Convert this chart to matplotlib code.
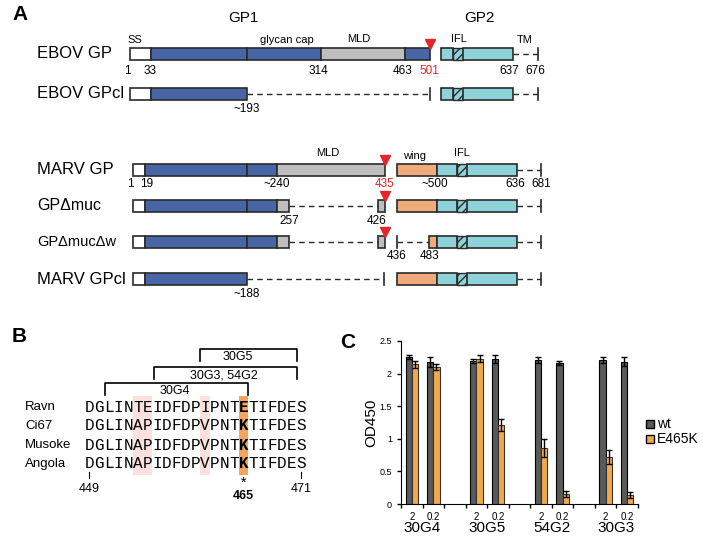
import matplotlib
matplotlib.use('Agg')
import matplotlib.pyplot as plt
from matplotlib.patches import Rectangle
import numpy as np

plt.rcParams['font.family'] = ['Liberation Sans', 'DejaVu Sans']
plt.rcParams['hatch.linewidth'] = 1.0

# ---- panel A: construct schematics (pixel layout) ----
BLUE = '#4866a6'
GRAY = '#bebebe'
CYAN = '#8dd3d9'
ORNG = '#f0ab7c'
WHITE = '#ffffff'
RED = '#e3262c'
EDGE = '#2a2a2a'

# (name, y centre, label size, segments, dashed runs, end ticks, cleavage marks)
constructs = [
    ('EBOV GP', 54, 12,
     [(130, 151, WHITE), (151, 247, BLUE), (247, 321, BLUE), (321, 405, GRAY), (405, 430, BLUE),
      (441, 453, CYAN), (453, 463, 'H'), (463, 513, CYAN)],
     [(513, 538)], [538], [430]),
    ('EBOV GPcl', 94, 12,
     [(130, 151, WHITE), (151, 247, BLUE),
      (441, 453, CYAN), (453, 463, 'H'), (463, 513, CYAN)],
     [(247, 430), (513, 538)], [430, 538], []),
    ('MARV GP', 170, 12,
     [(133, 145, WHITE), (145, 247, BLUE), (247, 277, BLUE), (277, 385, GRAY),
      (397, 437, ORNG), (437, 457, CYAN), (457, 467, 'H'), (467, 517, CYAN)],
     [(517, 541)], [541], [385]),
    ('GP\u0394muc', 206, 11.5,
     [(133, 145, WHITE), (145, 247, BLUE), (247, 277, BLUE), (277, 289, GRAY), (378, 385, GRAY),
      (397, 437, ORNG), (437, 457, CYAN), (457, 467, 'H'), (467, 517, CYAN)],
     [(289, 378), (517, 541)], [541], [385]),
    ('GP\u0394muc\u0394w', 242, 10.5,
     [(133, 145, WHITE), (145, 247, BLUE), (247, 277, BLUE), (277, 289, GRAY), (378, 385, GRAY),
      (429, 437, ORNG), (437, 457, CYAN), (457, 467, 'H'), (467, 517, CYAN)],
     [(289, 378), (397, 429), (517, 541)], [397, 541], [385]),
    ('MARV GPcl', 279, 12,
     [(133, 145, WHITE), (145, 247, BLUE),
      (397, 437, ORNG), (437, 457, CYAN), (457, 467, 'H'), (467, 517, CYAN)],
     [(247, 384), (517, 541)], [384, 541], []),
]

# residue numbers (x, text, y, colour)
residue_labels = [
    (127, '1', 71, 'k'), (150, '33', 71, 'k'), (318, '314', 71, 'k'), (403, '463', 71, 'k'),
    (429, '501', 71, RED), (509, '637', 71, 'k'), (535, '676', 71, 'k'),
    (247, '~193', 109, 'k'),
    (130, '1', 184, 'k'), (147, '19', 184, 'k'), (277, '~240', 184, 'k'), (385, '435', 184, RED),
    (435, '~500', 184, 'k'), (515, '636', 184, 'k'), (541, '681', 184, 'k'),
    (289, '257', 221, 'k'), (377, '426', 221, 'k'),
    (397, '436', 256, 'k'), (429, '483', 256, 'k'),
    (247, '~188', 294, 'k'),
]
domain_labels = [
    (135, 'SS', 40), (287, 'glycan cap', 40), (359, 'MLD', 39), (459, 'IFL', 39), (525, 'TM', 40),
    (328, 'MLD', 153), (415, 'wing', 156), (462, 'IFL', 153),
]

# ---- panel B: epitope alignment ----
strains = ['Ravn', 'Ci67', 'Musoke', 'Angola']
seqs = ['DGLINTEIDFDPIPNTETIFDES',
        'DGLINAPIDFDPVPNTKTIFDES',
        'DGLINAPIDFDPVPNTKTIFDES',
        'DGLINAPIDFDPVPNTKTIFDES']
pink_cols = [5, 6, 12]
key_col = 16
# (left, right, top, label, label x)
brackets = [(200, 297, 349, '30G5', 238), (154, 297, 367, '30G3, 54G2', 224),
            (105, 248, 383, '30G4', 175)]

# ---- panel C: ELISA ----
antibodies = ['30G4', '30G5', '54G2', '30G3']
conc = ['2', '0.2']
wt = [2.26, 2.18, 2.20, 2.22, 2.21, 2.16, 2.21, 2.18]
wt_err = [0.03, 0.08, 0.03, 0.06, 0.05, 0.03, 0.05, 0.07]
mut = [2.14, 2.10, 2.23, 1.21, 0.86, 0.15, 0.72, 0.14]
mut_err = [0.05, 0.05, 0.05, 0.09, 0.14, 0.05, 0.11, 0.05]

W, H = 703, 540
fig = plt.figure(figsize=(W / 100, H / 100), dpi=100)
ov = fig.add_axes([0, 0, 1, 1])
ov.set_xlim(0, W)
ov.set_ylim(H, 0)
ov.axis('off')

# panel letters
for x, y, s in [(12, 15, 'A'), (12, 337, 'B'), (340, 342, 'C')]:
    ov.text(x, y, s, fontsize=15, fontweight='bold', ha='left', va='center')

ov.text(243, 18, 'GP1', fontsize=11, ha='center', va='center')
ov.text(479, 18, 'GP2', fontsize=11, ha='center', va='center')

bh = 12
for name, yc, fs, segs, dashes, ticks, cuts in constructs:
    ov.text(37, yc, name, fontsize=fs, ha='left', va='center')
    for x0, x1 in dashes:
        ov.plot([x0, x1], [yc, yc], color=EDGE, lw=1, ls=(0, (4, 3)))
    for xt in ticks:
        ov.plot([xt, xt], [yc - 6, yc + 6], color=EDGE, lw=1.2)
    for x0, x1, c in segs:
        if c == 'H':
            r = Rectangle((x0, yc - bh / 2), x1 - x0, bh, facecolor=CYAN, edgecolor=EDGE,
                          lw=1, hatch='////')
        else:
            r = Rectangle((x0, yc - bh / 2), x1 - x0, bh, facecolor=c, edgecolor=EDGE, lw=1.2)
        ov.add_patch(r)
    for xc in cuts:
        ov.plot([xc], [yc - bh / 2 - 4], marker='v', color=RED, ms=7, mec=RED)

for x, s, y, c in residue_labels:
    ov.text(x, y, s, fontsize=8.5, color=c, ha='center', va='center')
for x, s, y in domain_labels:
    ov.text(x, y, s, fontsize=8, ha='center', va='center')

# panel B
x0, cw = 85, 9.6
row_y = [407, 426, 445, 464]
for c in pink_cols:
    ov.add_patch(Rectangle((x0 + c * cw, 396), cw, 79, facecolor='#fbe1de', edgecolor='none'))
ov.add_patch(Rectangle((x0 + key_col * cw, 396), cw, 79, facecolor='#f5a55e', edgecolor='none'))
for name, seq, y in zip(strains, seqs, row_y):
    ov.text(25, y, name, fontsize=9.5, ha='left', va='center')
    for i, ch in enumerate(seq):
        ov.text(x0 + (i + 0.5) * cw, y, ch, family='Liberation Mono', fontsize=11.5,
                fontweight='bold' if i == key_col else 'normal', ha='center', va='center')
for xl, xr, yt, lab, lx in brackets:
    ov.plot([xl, xl, xr, xr], [yt + 12, yt, yt, yt + 12], color='k', lw=1.2)
    ov.text(lx, yt + 8, lab, fontsize=9, ha='center', va='center')
for xt, s in [(89, '449'), (301, '471')]:
    ov.plot([xt, xt], [472, 478], color='k', lw=0.8)
    ov.text(xt, 489, s, fontsize=9, ha='center', va='center')
ov.text(x0 + (key_col + 0.5) * cw, 476, '*', fontsize=10, ha='center', va='top')
ov.text(x0 + (key_col + 0.5) * cw, 496, '465', fontsize=9, fontweight='bold', ha='center', va='center')

# legend for panel C
for y, c, s in [(424, '#5a5a5a', 'wt'), (439, '#f4a84c', 'E465K')]:
    ov.add_patch(Rectangle((646, y - 4), 8, 8, facecolor=c, edgecolor='k', lw=1))
    ov.text(657, y, s, fontsize=10, ha='left', va='center')

# panel C bars
ax = fig.add_axes([401 / W, 1 - 504 / H, (638 - 401) / W, (504 - 341) / H])
pos = np.array([0, 1, 3, 4, 6, 7, 9, 10])
bw = 0.29
ax.bar(pos - bw / 2, wt, bw, yerr=wt_err, color='#5a5a5a', edgecolor='k', lw=0.8,
       error_kw=dict(ecolor='k', lw=1, capsize=2, capthick=1))
ax.bar(pos + bw / 2, mut, bw, yerr=mut_err, color='#f4a84c', edgecolor='#333333', lw=0.8,
       error_kw=dict(ecolor='k', lw=1, capsize=2, capthick=1))
ax.set_xlim(-0.5, 10.5)
ax.set_ylim(0, 2.5)
ax.set_yticks([0, 0.5, 1, 1.5, 2, 2.5])
ax.set_yticklabels(['0', '0.5', '1', '1.5', '2', '2.5'], fontsize=6.5)
ax.set_xticks(np.arange(-0.5, 11, 1))
ax.set_xticklabels([])
ax.tick_params(direction='out', length=3, width=1)
for s in ['top', 'right']:
    ax.spines[s].set_visible(False)
ax.set_ylabel('OD450', fontsize=11, labelpad=1)
for i, p in enumerate(pos):
    ax.annotate(conc[i % 2], (p, 0), xycoords=('data', 'axes fraction'),
                xytext=(0, -9.5), textcoords='offset points', fontsize=7,
                ha='center', va='center')
for g, ab in enumerate(antibodies):
    ax.annotate(ab, (pos[2 * g] + 0.5, 0), xycoords=('data', 'axes fraction'),
                xytext=(0, -17.5), textcoords='offset points', fontsize=11,
                ha='center', va='center')

fig.savefig('out.png', dpi=100)
